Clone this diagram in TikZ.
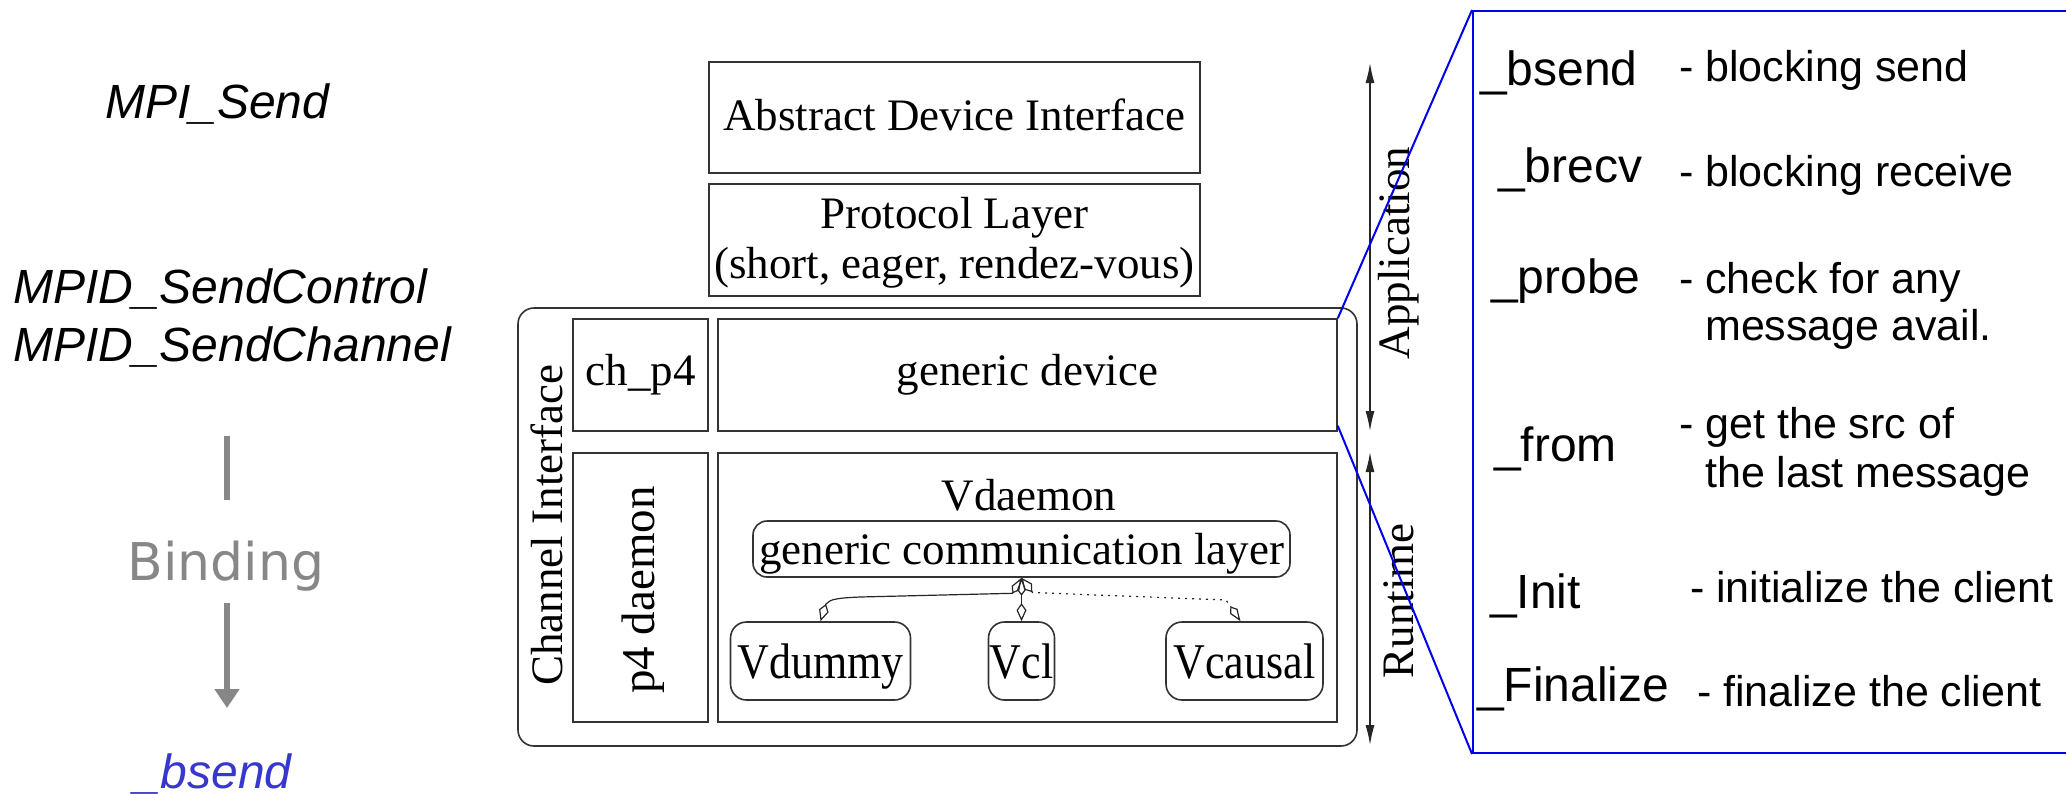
\documentclass[tikz,border=0pt]{standalone}
\usepackage{fontspec}
\setmainfont{Liberation Serif}
\newfontfamily\armfont{Liberation Sans}
\newfontfamily\widesans{DejaVu Sans}
\usetikzlibrary{arrows.meta}
\definecolor{zoomblue}{RGB}{0,0,235}
\definecolor{callblue}{RGB}{55,55,205}
\definecolor{bindgray}{RGB}{135,135,135}
\newcommand{\impl}[1]{\scalebox{0.88}[1]{\fontsize{50}{56}\selectfont #1}}
\begin{document}
\begin{tikzpicture}[x=1pt,y=-1pt,
  serif/.style={font=\fontsize{45}{52}\selectfont, inner sep=0pt},
  layer/.style={draw=black!80, line width=1.6pt, inner sep=0pt, font=\fontsize{45}{52}\selectfont},
  rlayer/.style={layer, rounded corners=16pt},
  implbox/.style={rlayer, minimum height=78pt, text height=34pt, text depth=0pt},
  dimline/.style={draw=black!85, line width=1.3pt, {Latex[length=20pt,width=9pt]}-{Latex[length=20pt,width=9pt]}},
  assoc/.style={draw=black!85, line width=1.2pt, {Kite[open,length=18pt,width=10pt,inset=7pt]}-{Kite[open,length=18pt,width=9pt,inset=6pt]}},
  zoomline/.style={draw=zoomblue, line width=2pt},
  callname/.style={font=\armfont\fontsize{48}{56}\selectfont, inner sep=0pt, anchor=base west},
  calldesc/.style={font=\armfont\fontsize{43}{48}\selectfont, inner sep=0pt, anchor=base west},
  apicall/.style={font=\armfont\itshape\fontsize{48}{56}\selectfont, inner sep=0pt, anchor=base west},
  bindline/.style={draw=bindgray, line width=6pt},
]
\useasboundingbox (0,0) rectangle (2066,793);
\clip (0,0) rectangle (2066,793);

% ---- call chain on the left ----
\node[apicall] (mpisend) at (105,118) {MPI\_Send};
\node[apicall] (mpidctl) at (13,303) {MPID\_SendControl};
\node[apicall] (mpidchan) at (13,361) {MPID\_SendChannel};
\node[font=\widesans\fontsize{52}{58}\selectfont, text=bindgray, inner sep=0pt, anchor=base] (binding) at (226,580) {Binding};
\node[apicall, text=callblue] (bsendcall) at (134,788) {\_bsend};
\coordinate (bindtop) at (227,436);
\coordinate (bindgap) at (227,500);
\coordinate (bindfrom) at (227,603);
\coordinate (bindto) at (227,708);
\draw[bindline] (bindtop) -- (bindgap);
\draw[bindline, -{Triangle[length=19pt,width=24pt]}] (bindfrom) -- (bindto);

% ---- device layers ----
\node[layer, minimum width=491pt, minimum height=111pt] (adi) at (954.5,117.5) {};
\node[serif, anchor=base] (aditext) at (954.5,130) {Abstract Device Interface};
\node[layer, minimum width=491pt, minimum height=112pt] (proto) at (954.5,240) {};
\node[serif, anchor=base] (protoname) at (954.5,228) {Protocol Layer};
\node[serif, anchor=base] (protomodes) at (954.5,278) {(short, eager, rendez-vous)};

\node[rlayer, minimum width=839pt, minimum height=438pt] (chanif) at (937.5,527) {};
\node[serif, rotate=90] (chaniftext) at (547,525) {Channel Interface};
\node[layer, minimum width=135pt, minimum height=112pt] (chp4) at (640.5,375) {ch\_p4};
\node[layer, minimum width=619pt, minimum height=112pt] (gendev) at (1027.5,375) {generic device};
\node[layer, minimum width=135pt, minimum height=269pt] (p4d) at (640.5,587.5) {};
\node[serif, rotate=90, font=\fontsize{47}{52}\selectfont] (p4dtext) at (643,590) {p4 daemon};
\node[layer, minimum width=619pt, minimum height=269pt] (vdaemon) at (1027.5,587.5) {};
\node[serif, anchor=base] (vdaemontext) at (1029,510) {Vdaemon};
\node[rlayer, rounded corners=14pt, minimum width=537pt, minimum height=56pt, text height=35pt, text depth=5pt] (gcl) at (1021.5,549) {generic communication layer};
\node[implbox, minimum width=180pt] (vdummy) at (820.5,661) {\impl{Vdummy}};
\node[implbox, minimum width=66pt] (vcl) at (1021.5,661) {\impl{Vcl}};
\node[implbox, minimum width=157pt] (vcausal) at (1244.5,661) {\impl{Vcausal}};

% ---- implementations of the communication layer ----
\coordinate (hub) at (gcl.south);
\draw[assoc] (vdummy.north) -- (826,604) .. controls (830,599) and (838,598) .. (860,597)
  -- (1012.5,593.3) -- (hub);
\draw[assoc] (vcl.north) -- (hub);
\draw[assoc, dash pattern=on 2pt off 5pt] (hub) -- (1032.5,592.5) -- (1226,600)
  -- ([xshift=-4pt]vcausal.north);

% ---- application / runtime extents ----
\coordinate (apptop) at (1370,63);
\coordinate (appbot) at (1370,431);
\coordinate (rttop) at (1370,452);
\coordinate (rtbot) at (1370,745);
\draw[dimline] (apptop) -- (appbot);
\draw[dimline] (rttop) -- (rtbot);
\node[serif, rotate=90] (applabel) at (1399,253) {Application};
\node[serif, rotate=90] (rtlabel) at (1399,601) {Runtime};

% ---- client interface of the generic device ----
\node[draw=zoomblue, line width=2pt, minimum width=640pt, minimum height=742pt, anchor=north west, inner sep=0pt] (panel) at (1472,10) {};
\draw[zoomline] (gendev.north east) -- (panel.north west);
\draw[zoomline] ([yshift=6pt]gendev.south east) -- (panel.south west);

\node[callname] (fbsend) at (1480,85) {\_bsend};
\node[calldesc] (dbsend) at (1679,81) {- blocking send};
\node[callname] (fbrecv) at (1498,182) {\_brecv};
\node[calldesc] (dbrecv) at (1679,186) {- blocking receive};
\node[callname] (fprobe) at (1491,293) {\_probe};
\node[calldesc] (dprobe) at (1679,293) {- check for any};
\node[calldesc] (dprobeb) at (1705,340) {message avail.};
\node[callname] (ffrom) at (1494,461) {\_from};
\node[calldesc] (dfrom) at (1679,438) {- get the src of};
\node[calldesc] (dfromb) at (1705,487) {the last message};
\node[callname] (finit) at (1490,608) {\_Init};
\node[calldesc] (dinit) at (1690,602) {- initialize the client};
\node[callname] (ffin) at (1477,701) {\_Finalize};
\node[calldesc] (dfin) at (1697,706) {- finalize the client};
\end{tikzpicture}
\end{document}
